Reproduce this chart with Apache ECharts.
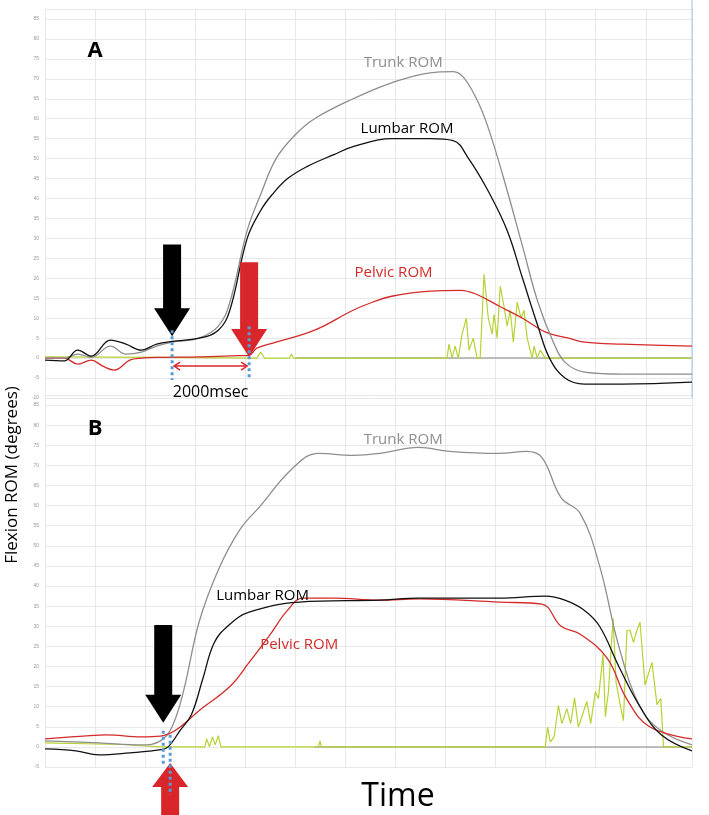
<!DOCTYPE html>
<html>
<head>
<meta charset="utf-8">
<script src="https://cdn.jsdelivr.net/npm/echarts@6/dist/echarts.min.js"></script>
<style>
html, body { margin: 0; padding: 0; background: #fff; }
#chart { width: 709px; height: 815px; }
</style>
</head>
<body>
<div id="chart"></div>
<script>
// time in seconds, values in degrees
const yTicks = [-10, -5, 0, 5, 10, 15, 20, 25, 30, 35, 40, 45, 50, 55, 60, 65, 70, 75, 80, 85];

// panel A
const trunkA = [[0,0],[0.5,0],[0.85,1],[1.2,0.2],[1.7,3],[2.1,1],[2.5,1.5],[2.9,3],[3.3,4],[4,5],[4.5,8],[4.8,14],[5.25,32],[5.6,41],[6,50],[6.5,56],[7,60],[8,65],[9,69],[10,71.5],[10.6,71.8],[10.9,70],[11.3,63],[11.6,55],[12,42],[12.4,28],[12.8,14],[13.2,4],[13.5,-1],[14,-3.5],[15,-4],[16.8,-4]];
const lumbarA = [[0,-0.5],[0.5,-0.7],[0.85,2],[1.2,0.5],[1.7,4.5],[2.1,3.5],[2.5,2],[2.9,3.5],[3.3,4.2],[4,5],[4.5,7],[4.8,12],[5.25,30],[5.6,37],[5.9,41],[6.3,45],[6.8,48],[7.5,51],[8,53],[9,55],[10,55],[10.6,54.5],[11,50],[11.5,42],[12,32],[12.4,20],[12.8,8],[13.1,0],[13.5,-5],[14,-6.5],[15,-6.5],[16.8,-6]];
const pelvicA = [[0,0],[0.5,0],[0.85,-1.5],[1.2,-0.5],[1.5,-2],[1.8,-3],[2.2,-0.5],[2.5,0],[3,0.2],[4,0.3],[5,0.6],[5.3,0.7],[5.5,2.5],[6,4],[7,7],[8,12],[8.5,14],[9,15.5],[10,16.8],[10.8,17],[11.2,16],[11.8,13],[12.4,10],[13,6.5],[13.6,5],[14,4],[15,3.5],[16.8,3]];
const emgA = [[0,0.3],[3,0.2],[5.5,0],[5.6,1.5],[5.7,0],[6.35,0],[6.4,1],[6.45,0],[10.44,0],[10.49,3.5],[10.57,0],[10.65,3],[10.73,0],[10.83,6],[10.94,10],[11.01,2],[11.12,5],[11.22,0],[11.3,0],[11.4,21],[11.51,10],[11.61,6],[11.66,11],[11.74,5],[11.82,18],[11.9,14],[12,8],[12.08,12],[12.16,4],[12.26,14],[12.36,10],[12.44,12],[12.52,5],[12.65,0],[12.7,3],[12.78,0],[12.86,2],[12.99,0],[16.8,0]];
const baseA = [[6.5,0],[16.8,0]];

// panel B
const trunkB = [[0,1.5],[1.4,1],[2.5,0.5],[3,1.5],[3.3,5],[3.6,14],[4,31],[4.5,44],[5.06,54],[5.6,60],[6.4,69],[7.1,73],[8,72.5],[8.7,73],[9.7,74.5],[10.5,73.5],[11.8,73],[12.5,73.5],[12.9,72],[13.4,62],[13.9,58],[14.4,45],[14.9,25],[15.45,10],[16,4],[16.8,0.5]];
const lumbarB = [[0,-0.5],[0.8,-1],[1.4,-2],[2.2,-1.5],[3,-0.7],[3.2,0],[3.5,4],[3.8,8],[4.1,17],[4.4,26],[4.8,30.5],[5.3,33.5],[6.6,36],[8.7,36.5],[9.7,37],[11.8,37],[13,37.5],[13.5,36.5],[14,34],[14.4,30],[14.9,20],[15.45,10],[16,3],[16.8,-1]];
const pelvicB = [[0,2],[1,2.7],[1.6,3],[2.5,2.5],[3,2.7],[3.4,4.2],[4,9],[4.8,15],[5.3,21],[5.85,28],[6.3,34],[6.7,37],[7.5,37],[8.7,36.5],[9.7,36.8],[11.8,36],[12.9,35.5],[13.4,30],[13.9,28],[14.6,22],[15.1,12],[15.7,5],[16.8,2]];
const emgB = [[0,1],[2,0.6],[3,0],[4.15,0],[4.2,2],[4.27,0],[4.35,2.5],[4.42,0.5],[4.5,2.8],[4.57,0],[7.1,0],[7.14,1.5],[7.18,0],[12.99,0],[13.05,4.9],[13.12,1.2],[13.22,2.5],[13.33,10.3],[13.42,5.8],[13.55,9.5],[13.65,5.8],[13.75,12.2],[13.85,4.9],[13.94,7.5],[14.07,11.3],[14.17,5.8],[14.29,13.7],[14.37,12],[14.49,23],[14.55,7.5],[14.63,13.7],[14.75,32],[14.83,16],[14.92,11.3],[15.02,6.5],[15.11,29],[15.19,29],[15.28,26],[15.37,29],[15.45,31],[15.58,15.4],[15.76,21],[15.89,10.5],[15.99,12],[16.06,0],[16.8,0]];
const baseB = [[7,0],[16.8,0]];

const C_TRUNK = '#8e8e8e', C_LUMBAR = '#111', C_PELVIC = '#d42a2a', C_EMG = '#b5d334';

const chart = echarts.init(document.getElementById('chart'));

function xAxis(i) {
	return {
		type: 'value', gridIndex: i, min: 0, max: 16.8, interval: 1.3,
		axisLine: { show: false }, axisTick: { show: false }, axisLabel: { show: false },
		splitLine: { lineStyle: { color: '#e8e8e8' } }
	};
}
function yAxis(i, min) {
	return {
		type: 'value', gridIndex: i, min: min, max: 87.5, interval: 5,
		axisLine: { show: false }, axisTick: { show: false },
		axisLabel: { fontSize: 5, color: '#999', margin: 6,
			formatter: v => (yTicks.indexOf(v) >= 0 ? v : '') },
		splitLine: { lineStyle: { color: '#e8e8e8' } }
	};
}
function line(name, data, color, i, w) {
	return { name, type: 'line', data, xAxisIndex: i, yAxisIndex: i, symbol: 'none',
		smooth: 0.4, lineStyle: { color, width: w || 1.3 }, animation: false };
}
function emg(data, i) {
	return { type: 'line', data, xAxisIndex: i, yAxisIndex: i, symbol: 'none',
		lineStyle: { color: C_EMG, width: 1.2 }, animation: false };
}

chart.setOption({
	animation: false,
	grid: [
		{ left: 45, right: 17, top: 9, height: 389 },
		{ left: 45, right: 17, top: 395, height: 372 }
	],
	xAxis: [xAxis(0), xAxis(1)],
	yAxis: [yAxis(0, -10), yAxis(1, -5)],
	series: [
		line('baseA', baseA, '#aaa', 0, 1.5),
		emg(emgA, 0),
		line('Pelvic ROM', pelvicA, C_PELVIC, 0),
		line('Trunk ROM', trunkA, C_TRUNK, 0),
		line('Lumbar ROM', lumbarA, C_LUMBAR, 0),
		line('baseB', baseB, '#aaa', 1, 1.5),
		emg(emgB, 1),
		line('Trunk ROM', trunkB, C_TRUNK, 1),
		line('Pelvic ROM', pelvicB, C_PELVIC, 1),
		line('Lumbar ROM', lumbarB, C_LUMBAR, 1)
	]
});

// annotations placed from data coordinates
const px = (g, p) => chart.convertToPixel({ gridIndex: g }, p);

function arrowDown(tip, topY, color) {
	const [x, y] = tip, sw = 9, hw = 18, hh = 28;
	return { type: 'polygon', z: 10, shape: { points: [
		[x - sw, topY], [x + sw, topY], [x + sw, y - hh], [x + hw, y - hh],
		[x, y], [x - hw, y - hh], [x - sw, y - hh]] }, style: { fill: color } };
}
function arrowUp(tip, botY, color) {
	const [x, y] = tip, sw = 9, hw = 18, hh = 24;
	return { type: 'polygon', z: 10, shape: { points: [
		[x - sw, botY], [x + sw, botY], [x + sw, y + hh], [x + hw, y + hh],
		[x, y], [x - hw, y + hh], [x - sw, y + hh]] }, style: { fill: color } };
}
function dotted(a, b) {
	return { type: 'line', z: 11, shape: { x1: a[0], y1: a[1], x2: b[0], y2: b[1] },
		style: { stroke: '#5b9bd5', lineWidth: 3, lineDash: [3, 3] } };
}
function label(p, text, color, size, weight) {
	return { type: 'text', z: 12, x: p[0], y: p[1], style: { text, fill: color,
		font: (weight || 'normal') + ' ' + size + 'px "Open Sans", sans-serif',
		align: 'center', verticalAlign: 'middle' } };
}

const aBlackTip = px(0, [3.3, 5.5]), aBlackTop = px(0, [3.3, 28.5]);
const aRedTip = px(0, [5.3, 0.3]), aRedTop = px(0, [5.3, 24]);
const arrowY = px(0, [0, -2])[1];
const bBlackTip = px(1, [3.07, 6]), bBlackTop = px(1, [3.07, 30.3]);
const bRedTip = px(1, [3.25, -4]);

const graphics = [
	arrowDown(aBlackTip, aBlackTop[1], '#000'),
	arrowDown(aRedTip, aRedTop[1], '#d9262b'),
	dotted(px(0, [3.3, 7]), px(0, [3.3, -5.5])),
	dotted(px(0, [5.3, 8]), px(0, [5.3, -5.5])),
	{ type: 'line', z: 11, shape: { x1: aBlackTip[0] + 2, y1: arrowY, x2: aRedTip[0] - 2, y2: arrowY },
		style: { stroke: '#d9262b', lineWidth: 1.5 } },
	{ type: 'polyline', z: 11, shape: { points: [[aBlackTip[0] + 8, arrowY - 4], [aBlackTip[0] + 2, arrowY], [aBlackTip[0] + 8, arrowY + 4]] },
		style: { stroke: '#d9262b', lineWidth: 1.5, fill: null } },
	{ type: 'polyline', z: 11, shape: { points: [[aRedTip[0] - 8, arrowY - 4], [aRedTip[0] - 2, arrowY], [aRedTip[0] - 8, arrowY + 4]] },
		style: { stroke: '#d9262b', lineWidth: 1.5, fill: null } },
	label(px(0, [4.3, -8.5]), '2000msec', '#000', 16),
	arrowDown(bBlackTip, bBlackTop[1], '#000'),
	arrowUp(bRedTip, 815, '#d9262b'),
	dotted(px(1, [3.07, 4]), px(1, [3.07, -4.5])),
	dotted(px(1, [3.25, 3]), [bRedTip[0], 795]),
	label(px(0, [1.3, 77]), 'A', '#000', 22, 'bold'),
	label(px(1, [1.3, 79]), 'B', '#000', 22, 'bold'),
	label(px(0, [9.3, 74]), 'Trunk ROM', C_TRUNK, 15),
	label(px(0, [9.4, 57.5]), 'Lumbar ROM', '#000', 15),
	label(px(0, [9.05, 21.3]), 'Pelvic ROM', '#d42a2a', 15),
	label(px(1, [9.3, 76.5]), 'Trunk ROM', C_TRUNK, 15),
	label(px(1, [5.65, 37.5]), 'Lumbar ROM', '#000', 15),
	label(px(1, [6.6, 25.5]), 'Pelvic ROM', '#d42a2a', 15),
	{ type: 'line', shape: { x1: 692, y1: 0, x2: 692, y2: px(0, [0, -10])[1] },
		style: { stroke: '#9cc3e5', lineWidth: 1 } },
	{ type: 'text', x: 12, y: 475, rotation: Math.PI / 2, style: { text: 'Flexion ROM (degrees)',
		fill: '#000', font: '17px "Open Sans", sans-serif', align: 'center', verticalAlign: 'middle' } },
	label([398, 797], 'Time', '#000', 32)
];
chart.setOption({ graphic: graphics });
</script>
</body>
</html>
